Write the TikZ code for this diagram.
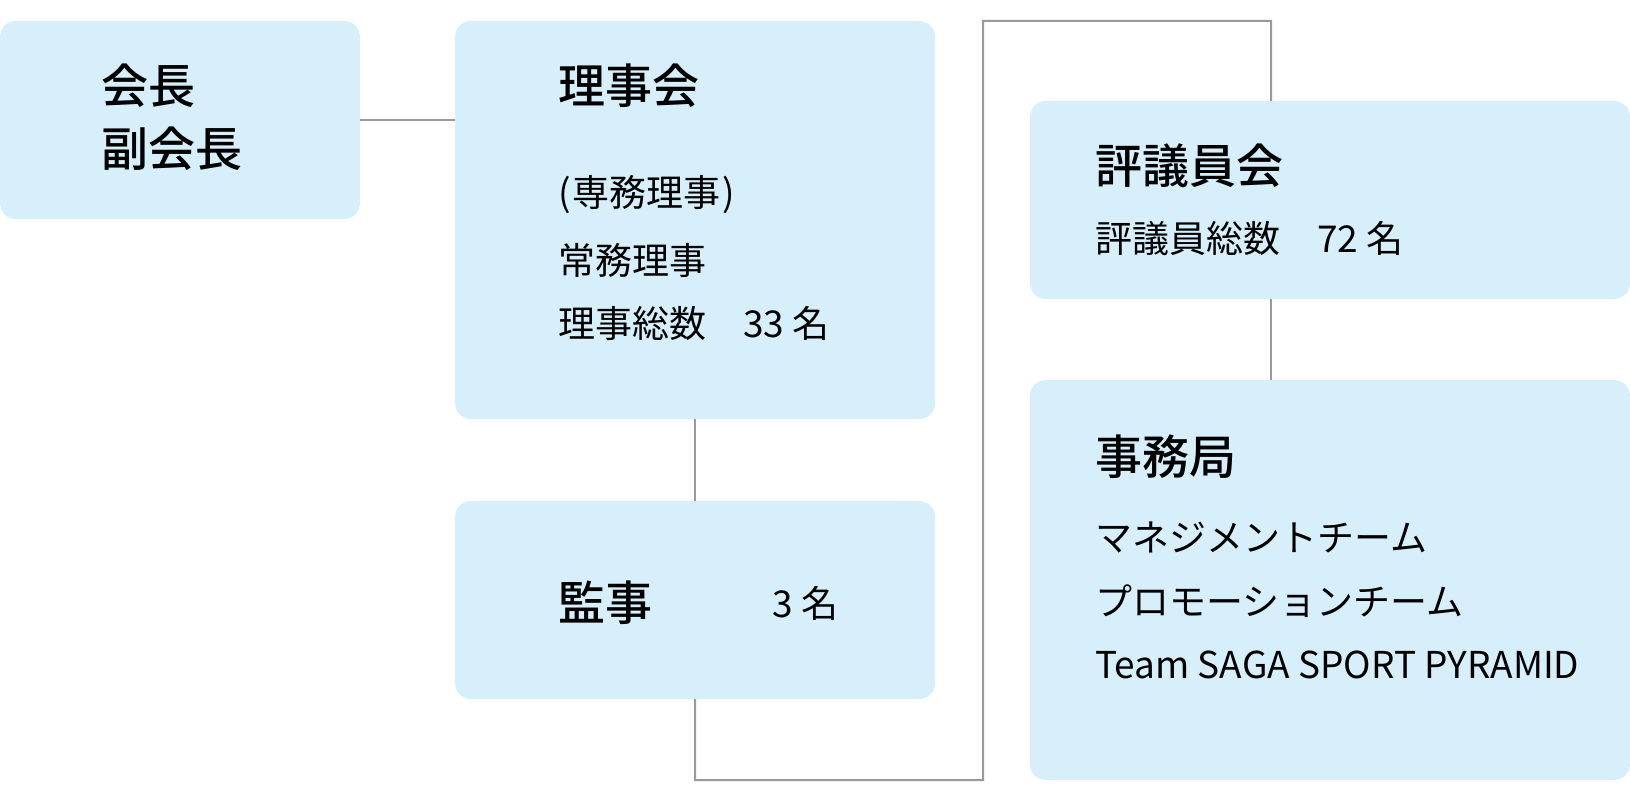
\documentclass[tikz,border=0pt]{standalone}
\usepackage{fontspec}
\setmainfont{Noto Sans CJK JP}[BoldFont={Noto Sans CJK JP Medium}]
\usepackage{xcolor}
\definecolor{boxbg}{HTML}{D7EFFA}
\definecolor{linegray}{HTML}{999999}

\begin{document}
\begin{tikzpicture}[
    x=1pt, y=-1pt,
    box/.style={fill=boxbg, rounded corners=16pt, inner sep=0pt},
    title/.style={anchor=west, inner sep=0pt, font=\fontsize{47}{56}\selectfont\bfseries},
    body/.style={anchor=west, inner sep=0pt, font=\fontsize{37}{44}\selectfont},
    link/.style={draw=linegray, line width=2pt}
]
\useasboundingbox (0,0) rectangle (1630,800);

% boxes
\node[box, minimum width=360pt, minimum height=198pt] (kaicho) at (180,120) {};
\node[box, minimum width=480pt, minimum height=398pt] (rijikai) at (695,220) {};
\node[box, minimum width=480pt, minimum height=198pt] (kanji) at (695,600) {};
\node[box, minimum width=600pt, minimum height=198pt] (hyogi) at (1330,200) {};
\node[box, minimum width=600pt, minimum height=400pt] (jimu) at (1330,580) {};

% texts
\node[title] (kaicho-t1) at (101,86) {会長};
\node[title] (kaicho-t2) at (101,149) {副会長};

\node[title] (rijikai-t) at (558,86) {理事会};
\node[body] (rijikai-b1) at (558,195) {(\kern2pt 専務理事\kern2pt)};
\node[body] (rijikai-b2) at (558,260) {常務理事};
\node[body] (rijikai-b3) at (558,323) {理事総数　33 名};

\node[title] (kanji-t) at (558,603) {監事};
\node[body] (kanji-b) at (772,603) {3 名};

\node[title] (hyogi-t) at (1095,166) {評議員会};
\node[body] (hyogi-b) at (1095,239) {評議員総数　72 名};

\node[title] (jimu-t) at (1095,457) {事務局};
\node[body] (jimu-b1) at (1095,538) {マネジメントチーム};
\node[body] (jimu-b2) at (1095,601) {プロモーションチーム};
\node[body] (jimu-b3) at (1095,665) {Team SAGA SPORT PYRAMID};

% connectors
\coordinate (trunk) at (1271,21);
\draw[link] (kaicho.east) -- (kaicho.east -| rijikai.west);
\draw[link] (rijikai.south) -- (kanji.north);
\draw[link] (kanji.south) -- (kanji.south |- jimu.south) -- (983,780) -- (983,21) -- (trunk) -- (trunk |- hyogi.north);
\draw[link] (trunk |- hyogi.south) -- (trunk |- jimu.north);
\end{tikzpicture}
\end{document}
